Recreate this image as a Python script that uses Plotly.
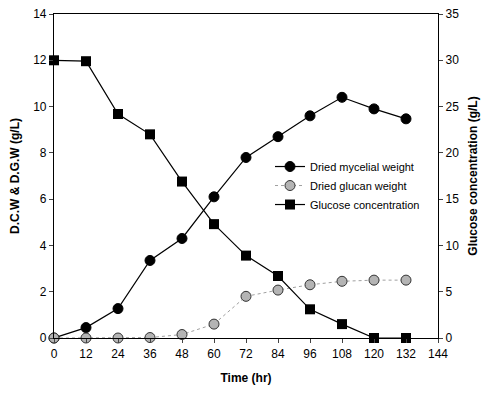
import plotly.graph_objects as go

time_hr = [0, 12, 24, 36, 48, 60, 72, 84, 96, 108, 120, 132]
mycelial = [0.0, 0.45, 1.27, 3.35, 4.3, 6.1, 7.8, 8.7, 9.6, 10.4, 9.9, 9.47]
glucan = [0.0, 0.0, 0.0, 0.02, 0.15, 0.6, 1.8, 2.07, 2.3, 2.45, 2.5, 2.5]
glucose = [30.0, 29.9, 24.2, 22.0, 16.9, 12.3, 8.9, 6.7, 3.1, 1.5, 0.0, 0.0]

x_ticks = [0, 12, 24, 36, 48, 60, 72, 84, 96, 108, 120, 132, 144]
left_ticks = [0, 2, 4, 6, 8, 10, 12, 14]
right_ticks = [0, 5, 10, 15, 20, 25, 30, 35]

font_fam = "Liberation Sans, Arial, sans-serif"

fig = go.Figure()
fig.add_trace(go.Scatter(
    x=time_hr, y=mycelial, name="Dried mycelial weight", mode="lines+markers",
    line=dict(color="black", width=1.2),
    marker=dict(symbol="circle", size=10, color="black", line=dict(color="black", width=1)),
    cliponaxis=False))
fig.add_trace(go.Scatter(
    x=time_hr, y=glucan, name="Dried glucan weight", mode="lines+markers",
    line=dict(color="#a0a0a0", width=1, dash="dot"),
    marker=dict(symbol="circle", size=10, color="#b4b4b4", line=dict(color="#333333", width=1)),
    cliponaxis=False))
fig.add_trace(go.Scatter(
    x=time_hr, y=glucose, name="Glucose concentration", mode="lines+markers",
    line=dict(color="black", width=1.2),
    marker=dict(symbol="square", size=10, color="black"),
    yaxis="y2", cliponaxis=False))

fig.update_layout(
    width=489, height=399,
    margin=dict(l=54, r=51, t=14, b=61),
    paper_bgcolor="white", plot_bgcolor="white",
    font=dict(family=font_fam, size=12, color="black"),
    showlegend=True,
    legend=dict(x=0.5625, y=0.574, xanchor="left", yanchor="top",
                bgcolor="rgba(0,0,0,0)", font=dict(size=11, family=font_fam),
                tracegroupgap=0),
    xaxis=dict(range=[0, 144], tickvals=x_ticks, ticks="outside", ticklen=4,
               showline=True, linecolor="black", linewidth=1.2, mirror=True,
               showgrid=False, zeroline=False, automargin=False,
               title=dict(text="<b>Time (hr)</b>", font=dict(size=12), standoff=14),
               tickfont=dict(size=12)),
    yaxis=dict(range=[0, 14], tickvals=left_ticks, ticks="outside", ticklen=4,
               showline=True, linecolor="black", linewidth=1.2,
               showgrid=False, zeroline=False, automargin=False,
               title=dict(text="<b>D.C.W &amp; D.G.W (g/L)</b>", font=dict(size=12), standoff=10),
               tickfont=dict(size=12)),
    yaxis2=dict(range=[0, 35], tickvals=right_ticks, ticks="outside", ticklen=4,
                overlaying="y", side="right",
                showline=True, linecolor="black", linewidth=1.2,
                showgrid=False, zeroline=False, automargin=False,
                title=dict(text="<b>Glucose concentration (g/L)</b>", font=dict(size=12), standoff=10),
                tickfont=dict(size=12)),
)

fig.write_html("out.html", config={"displayModeBar": False},
               post_script="document.body.style.margin='0';document.body.style.overflow='hidden';")
